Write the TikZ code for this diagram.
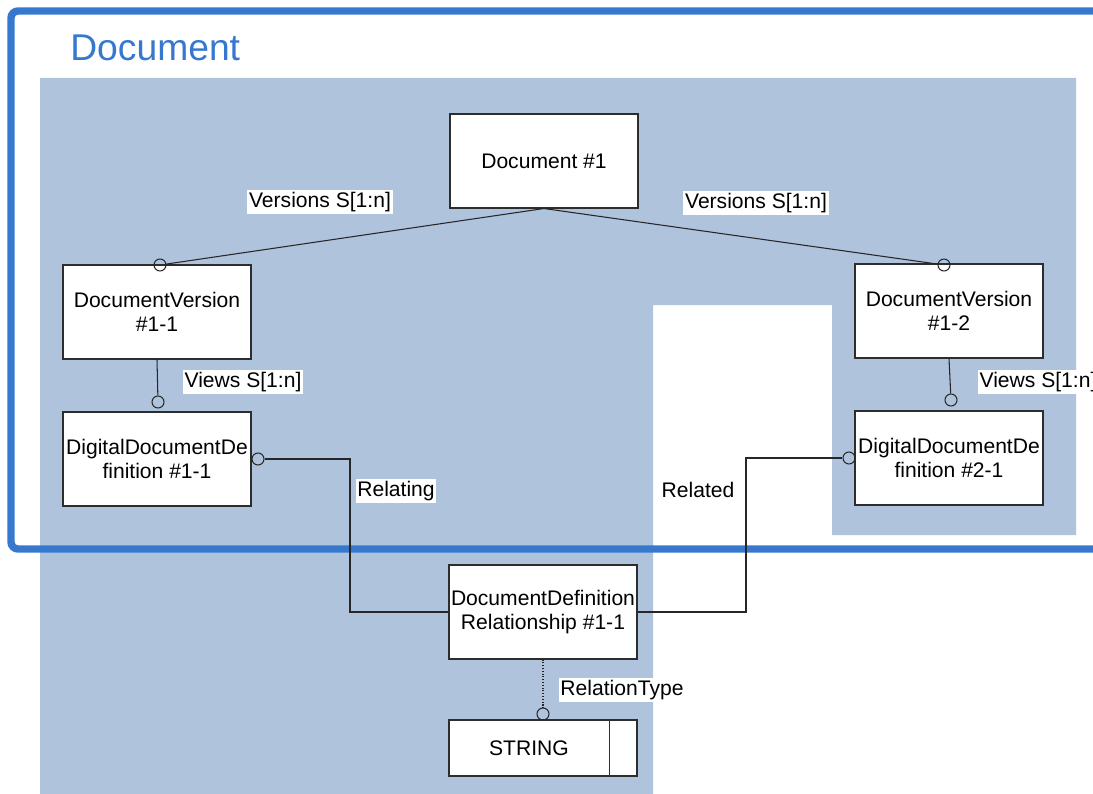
\documentclass[tikz,border=0pt]{standalone}
\usepackage{fontspec}
\setmainfont{Liberation Sans}
\definecolor{frameblue}{RGB}{55,120,207}
\definecolor{areagray}{RGB}{176,195,220}
\definecolor{edgegray}{RGB}{45,45,45}
\tikzset{
	box/.style = {draw = edgegray, fill = white, line width = 0.6pt, minimum width = 3.76cm, minimum height = 1.88cm, align = center, inner sep = 1pt, font = \fontsize{12}{13.8}\selectfont},
	lbl/.style = {fill = white, inner sep = 1pt, font = \fontsize{12}{13.8}\selectfont},
	conn/.style = {line width = 0.6pt, black!85},
	endc/.style = {circle, draw = black!85, line width = 0.6pt, minimum size = 0.24cm, inner sep = 0pt}
}
\begin{document}
\begin{tikzpicture} [x = 0.02cm, y = -0.02cm]
	\useasboundingbox (0,0) rectangle (1093,794);
	\clip (0,0) rectangle (1093,794);
	\fill [white] (0,0) rectangle (1093,794);
	\fill [areagray] (40,78) -- (1076,78) -- (1076,535) -- (832,535) -- (832,305) -- (653,305) -- (653,794) -- (40,794) -- cycle;
	\draw [frameblue, line width = 4.2pt, rounded corners = 4pt] (1120,11) -- (11,11) -- (11,549) -- (1120,549);
	\node [anchor = base west, text = frameblue, inner sep = 0pt, font = \fontsize{21.2}{25}\selectfont] (title) at (70,61) {Document};
	\node [box] (doc) at (544,161) {Document \#1};
	\node [box] (verA) at (157,312) {DocumentVersion\\\#1-1};
	\node [box] (verB) at (949,311) {DocumentVersion\\\#1-2};
	\node [box] (defA) at (157,459) {DigitalDocumentDe\\finition \#1-1};
	\node [box] (defB) at (949,458) {DigitalDocumentDe\\finition \#2-1};
	\node [box] (rel) at (543,612) {DocumentDefinition\\Relationship \#1-1};
	\node [box, minimum height = 1.12cm] (str) at (543,748) {STRING\hspace{0.56cm}};
	\draw [edgegray, line width = 0.6pt] ([xshift = -0.56cm] str.north east) -- ([xshift = -0.56cm] str.south east);
	\node [endc] (cA) at (160,265) {};
	\node [endc] (cB) at (944,265) {};
	\node [endc] (cC) at (158,402) {};
	\node [endc] (cD) at (951,400) {};
	\node [endc] (cE) at (258,459) {};
	\node [endc] (cF) at (849,458) {};
	\node [endc] (cG) at (543,714) {};
	\coordinate (jA) at (350,459);
	\coordinate (jB) at (746,458);
	\draw [conn] (doc.south) -- (cA);
	\draw [conn] (doc.south) -- (cB);
	\draw [conn] (verA.south) -- (cC);
	\draw [conn] (verB.south) -- (cD);
	\draw [conn] (cE) -- (jA) |- (rel.west);
	\draw [conn] (cF) -- (jB) |- (rel.east);
	\draw [conn, densely dotted] (rel.south) -- (cG);
	\node [lbl] (vsA) at (320,202) {Versions S[1:n]};
	\node [lbl] (vsB) at (756,203) {Versions S[1:n]};
	\node [lbl] (vwA) at (243,382) {Views S[1:n]};
	\node [lbl] (vwB) at (1038,382) {Views S[1:n]};
	\node [lbl] (rlA) at (396,491) {Relating};
	\node [lbl] (rlB) at (698,490) {Related};
	\node [lbl] (rtp) at (622,690) {RelationType};
\end{tikzpicture}
\end{document}
